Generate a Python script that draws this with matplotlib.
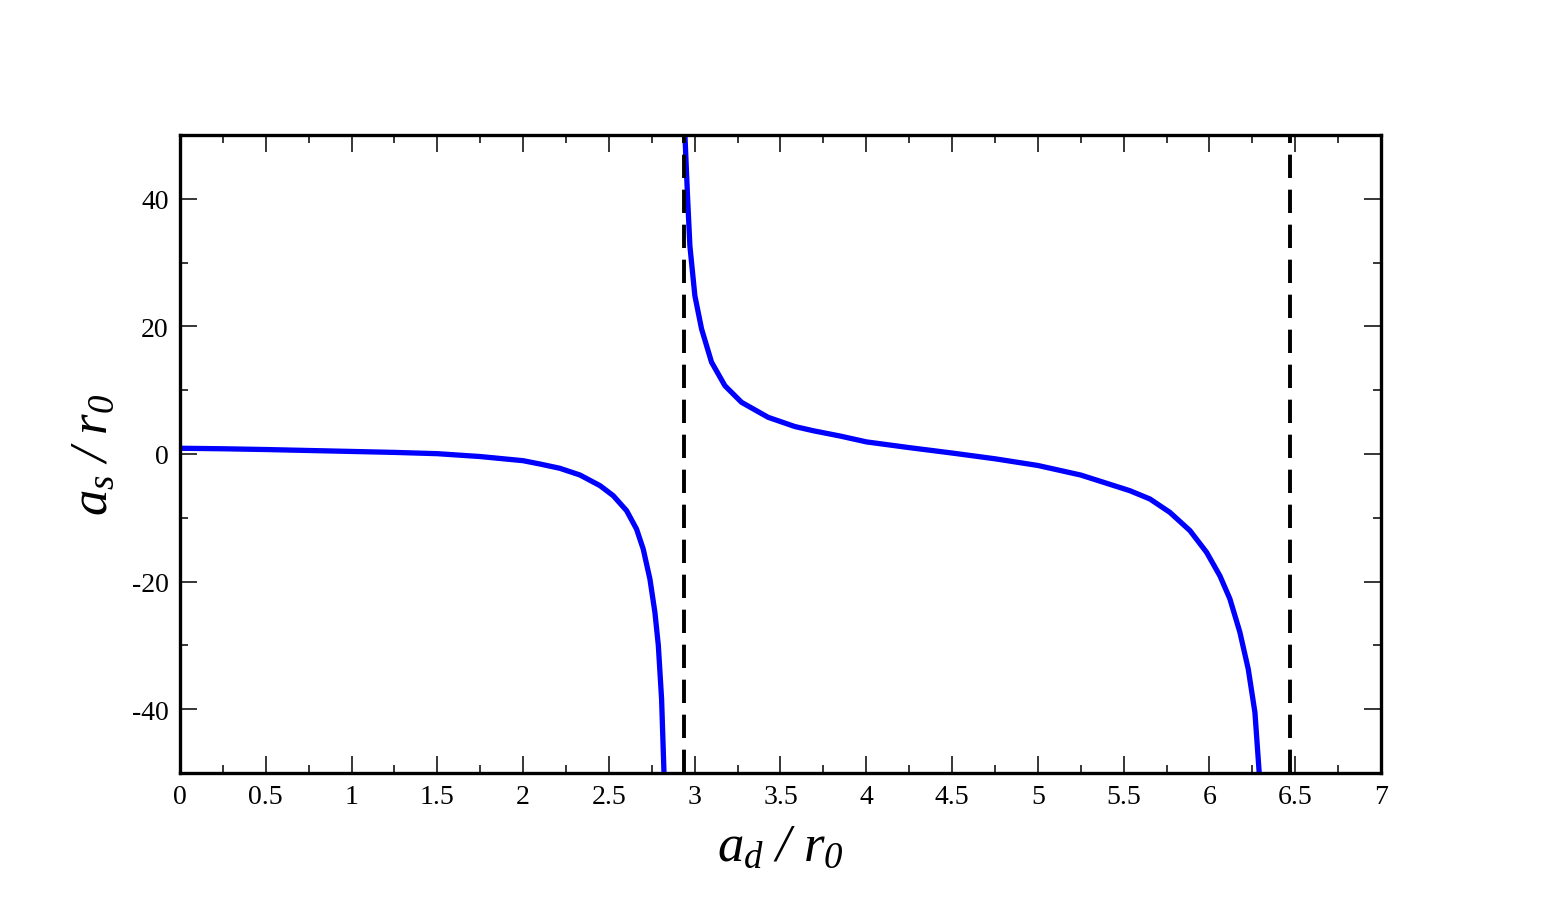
import matplotlib
matplotlib.use("Agg")
import matplotlib.pyplot as plt
from matplotlib.ticker import MultipleLocator


# branch below the first pole
branch1_x = [0.0, 0.25, 0.5, 0.75, 1.0, 1.25, 1.5, 1.75, 2.0, 2.098, 2.214, 2.331, 2.448,
             2.525, 2.603, 2.661, 2.70, 2.739, 2.768, 2.788, 2.807, 2.821]
branch1_y = [0.9, 0.82, 0.7, 0.55, 0.4, 0.25, 0.05, -0.4, -1.05, -1.57, -2.24, -3.29, -4.96,
             -6.53, -8.88, -11.76, -14.9, -19.6, -24.8, -30.0, -38.4, -50.0]

# branch between the two poles
branch2_x = [2.943, 2.958, 2.972, 3.001, 3.04, 3.098, 3.176, 3.273, 3.428, 3.584, 3.69, 3.85,
             4.0, 4.25, 4.5, 4.75, 5.0, 5.25, 5.536, 5.653, 5.769, 5.886, 5.983, 6.061,
             6.119, 6.177, 6.226, 6.265, 6.29]
branch2_y = [50.0, 40.5, 32.6, 24.8, 19.6, 14.4, 10.7, 8.1, 5.75, 4.3, 3.65, 2.8,
             1.9, 1.0, 0.15, -0.75, -1.8, -3.3, -5.75, -7.05, -9.14, -12.0, -15.4, -19.1,
             -22.7, -27.9, -33.7, -40.5, -50.0]

pole_x = [2.937, 6.469]

x_ticks = [0, 0.5, 1, 1.5, 2, 2.5, 3, 3.5, 4, 4.5, 5, 5.5, 6, 6.5, 7]
x_tick_labels = ["0", "0.5", "1", "1.5", "2", "2.5", "3", "3.5", "4", "4.5", "5", "5.5", "6", "6.5", "7"]
y_ticks = [-40, -20, 0, 20, 40]
y_tick_labels = ["-40", "-20", "0", "20", "40"]

plt.rcParams["font.family"] = ["Liberation Serif", "DejaVu Serif"]
plt.rcParams["mathtext.fontset"] = "custom"
plt.rcParams["mathtext.it"] = "Liberation Serif:italic"
plt.rcParams["mathtext.rm"] = "Liberation Serif:italic"
plt.rcParams["mathtext.default"] = "it"
plt.rcParams["axes.unicode_minus"] = False

fig = plt.figure(figsize=(15.54, 9.12), dpi=100)
ax = fig.add_axes([0.1158, 0.1513, 0.8887 - 0.1158, 0.8509 - 0.1513])

ax.plot(branch1_x, branch1_y, color="#0000ff", lw=3.8, solid_capstyle="butt", solid_joinstyle="round")
ax.plot(branch2_x, branch2_y, color="#0000ff", lw=3.8, solid_capstyle="butt", solid_joinstyle="round")
for px in pole_x:
    ax.axvline(px, color="black", lw=2.8, dashes=(6, 3))

ax.set_xlim(0, 7)
ax.set_ylim(-50, 50)
ax.set_xticks(x_ticks)
ax.set_xticklabels(x_tick_labels)
ax.set_yticks(y_ticks)
ax.set_yticklabels(y_tick_labels)
ax.xaxis.set_minor_locator(MultipleLocator(0.25))
ax.yaxis.set_minor_locator(MultipleLocator(10))

ax.tick_params(which="both", direction="in", top=True, right=True, width=1.1, labelsize=20, pad=8)
ax.tick_params(which="major", length=12)
ax.tick_params(which="minor", length=6)
for spine in ax.spines.values():
    spine.set_linewidth(2.4)

ax.set_xlabel(r"$a_{d}\ /\ r_{0}$", fontsize=38, labelpad=10)
ax.set_ylabel(r"$a_{s}\ /\ r_{0}$", fontsize=38, labelpad=10)

fig.savefig("out.png", dpi=100)
